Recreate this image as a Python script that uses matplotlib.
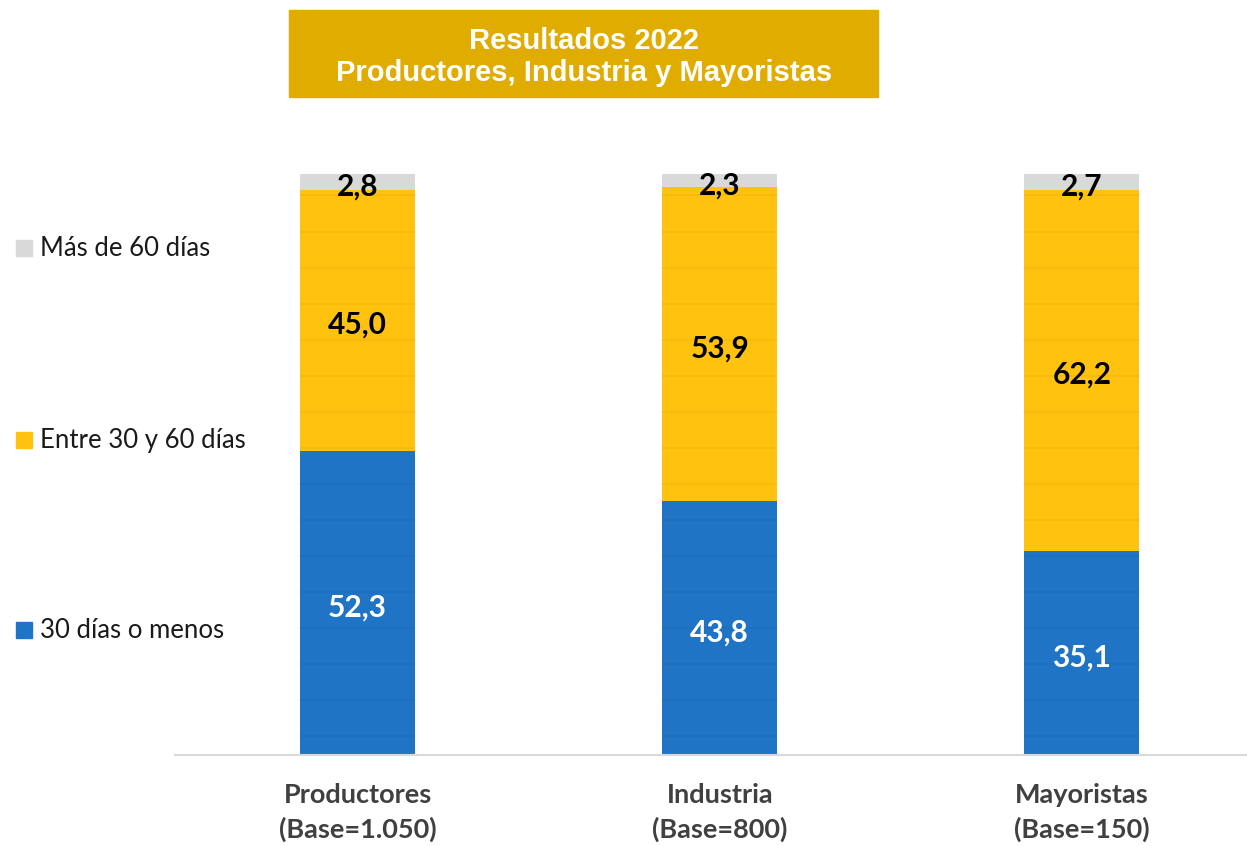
import numpy as np
import matplotlib
matplotlib.use("Agg")
from matplotlib import pyplot as plt
from matplotlib.patches import Rectangle

categorias = ["Productores\n(Base=1.050)", "Industria\n(Base=800)", "Mayoristas\n(Base=150)"]
menos_30 = [52.3, 43.8, 35.1]
entre_30_60 = [45.0, 53.9, 62.2]
mas_60 = [2.8, 2.3, 2.7]
series_nombres = ["30 días o menos", "Entre 30 y 60 días", "Más de 60 días"]

col_azul = "#1f74c6"
col_amarillo = "#ffc20e"
col_gris = "#d9d9d9"
col_titulo = "#e0ac00"

fuente = ["Lato", "DejaVu Sans"]

fig = plt.figure(figsize=(12.47, 8.46), dpi=100)
ax = fig.add_axes([175 / 1247, 91 / 846, 1 - 175 / 1247, 581 / 846])

x = np.arange(len(categorias))
ancho = 0.318
b1 = ax.bar(x, menos_30, ancho, color=col_azul, zorder=2)
b2 = ax.bar(x, entre_30_60, ancho, bottom=menos_30, color=col_amarillo, zorder=2)
base3 = np.array(menos_30) + np.array(entre_30_60)
b3 = ax.bar(x, mas_60, ancho, bottom=base3, color=col_gris, zorder=2)

# lineas tenues que se ven dentro de las barras
lineas = np.arange(3.3, 99, 6.2)
for p in list(b1) + list(b2):
    x0, w = p.get_x(), p.get_width()
    y0, h = p.get_y(), p.get_height()
    for yy in lineas:
        if y0 < yy < y0 + h:
            ax.plot([x0, x0 + w], [yy, yy], color="black", alpha=0.045, lw=1.2, zorder=3)

# etiquetas de valores
for barras, valores, color in [(b1, menos_30, "white"), (b2, entre_30_60, "black"), (b3, mas_60, "black")]:
    for p, v in zip(barras, valores):
        yc = p.get_y() + p.get_height() / 2 - 0.8
        ax.text(p.get_x() + p.get_width() / 2, yc, f"{v:.1f}".replace(".", ","),
                ha="center", va="center", fontsize=21.5, fontweight="bold",
                color=color, family=fuente, zorder=4)

ax.set_xlim(-0.504, 2.456)
ax.set_ylim(0, 100)
for s in ["top", "right", "left"]:
    ax.spines[s].set_visible(False)
ax.spines["bottom"].set_color("#d9d9d9")
ax.spines["bottom"].set_linewidth(1.5)
ax.set_yticks([])
ax.set_xticks(x)
ax.set_xticklabels(categorias, fontsize=19.5, fontweight="bold", color="#404040",
                   family=fuente, linespacing=1.45)
ax.tick_params(axis="x", length=0, pad=20)

# leyenda manual a la izquierda
leg_y = [630, 440, 248]
for nombre, color, yy in zip(series_nombres, [col_azul, col_amarillo, col_gris], leg_y):
    fy = 1 - yy / 846
    fig.patches.append(Rectangle((16 / 1247, fy - 8 / 846), 16 / 1247, 16 / 846,
                                 transform=fig.transFigure, color=color))
    fig.text(40 / 1247, fy, nombre, fontsize=18.5, color="#1a1a1a", va="center",
             ha="left", family=fuente)

# titulo en caja
fig.patches.append(Rectangle((289 / 1247, 1 - 97 / 846), (878 - 289) / 1247, 87 / 846,
                             transform=fig.transFigure, color=col_titulo))
fig.text(584 / 1247, 1 - 57 / 846, "Resultados 2022\nProductores, Industria y Mayoristas",
         ha="center", va="center", color="white", fontsize=21, fontweight="bold",
         family=["Liberation Sans", "DejaVu Sans"], linespacing=1.15)

plt.savefig("out.png", dpi=100)
